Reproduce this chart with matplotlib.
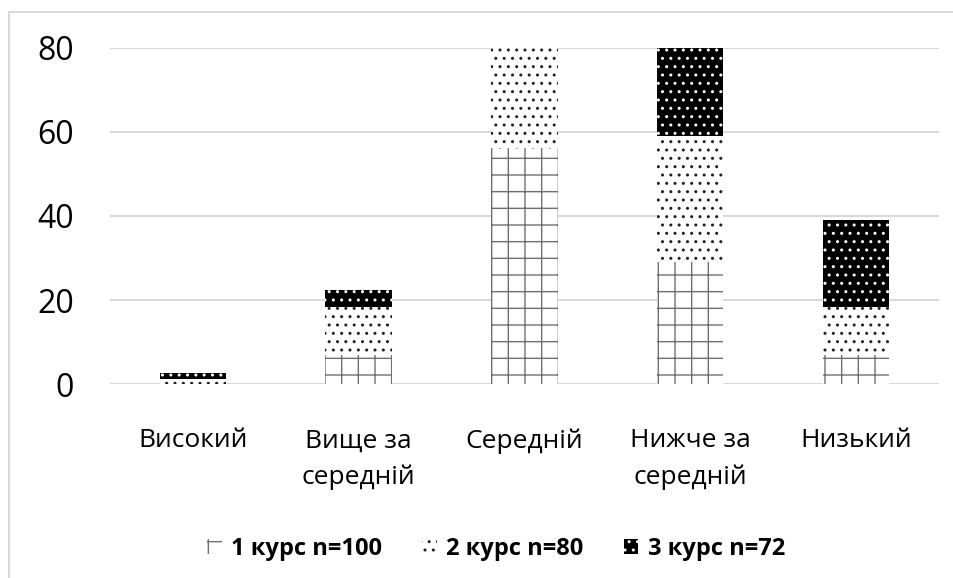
import matplotlib.pyplot as plt
import numpy as np
from matplotlib.patches import Rectangle

# Data (percent of students per level)
categories = ['Високий', 'Вище за\nсередній', 'Середній', 'Нижче за\nсередній', 'Низький']
kurs1 = [0, 7, 56, 29, 7]
kurs2 = [1.25, 11.25, 24, 30, 11.25]
kurs3 = [1.4, 4.2, 0, 21, 20.8]
series_names = ['1 курс n=100', '2 курс n=80', '3 курс n=72']
yticks = [0, 20, 40, 60, 80]

plt.rcParams['font.family'] = ['Open Sans', 'DejaVu Sans']
plt.rcParams['hatch.linewidth'] = 1.0

fig = plt.figure(figsize=(9.54, 5.78), dpi=100)
ax = fig.add_axes([0.1153, 0.3356, 0.984 - 0.1153, 0.917 - 0.3356])

# light frame around the chart area (right/bottom edges fall outside the image)
fig.patches.append(Rectangle((9 / 954, -1), 2, 2 - 12 / 578, transform=fig.transFigure,
                             fill=False, edgecolor='#d9d9d9', linewidth=1.5))

x = np.arange(len(categories))
w = 0.4
b1 = np.array(kurs1)
b2 = b1 + np.array(kurs2)

ax.bar(x, kurs1, w, color='white', edgecolor='#707070', hatch='+', linewidth=0,
       label=series_names[0], zorder=2)
ax.bar(x, kurs2, w, bottom=b1, color='white', edgecolor='#222222', hatch='..',
       linewidth=0, label=series_names[1], zorder=2)
ax.bar(x, kurs3, w, bottom=b2, color='black', edgecolor='white', hatch='..',
       linewidth=0, label=series_names[2], zorder=2)

ax.set_xlim(-0.5, len(categories) - 0.5)
ax.set_ylim(0, 80)
ax.set_yticks(yticks)
ax.set_xticks(x)
ax.set_xticklabels(categories, fontsize=19, linespacing=1.55)
ax.tick_params(axis='y', labelsize=23, length=0, pad=26)
ax.tick_params(axis='x', length=0, pad=32)
ax.grid(axis='y', color='#d9d9d9', linewidth=1.5, zorder=0)
ax.set_axisbelow(True)
for s in ax.spines.values():
    s.set_visible(False)

leg = fig.legend(loc='center', bbox_to_anchor=(0.52, 0.05), ncol=3, frameon=False,
                 handlelength=0.62, handleheight=0.62, handletextpad=0.4,
                 columnspacing=1.7, prop={'weight': 'bold', 'size': 17})

fig.savefig('out.png', dpi=100)
